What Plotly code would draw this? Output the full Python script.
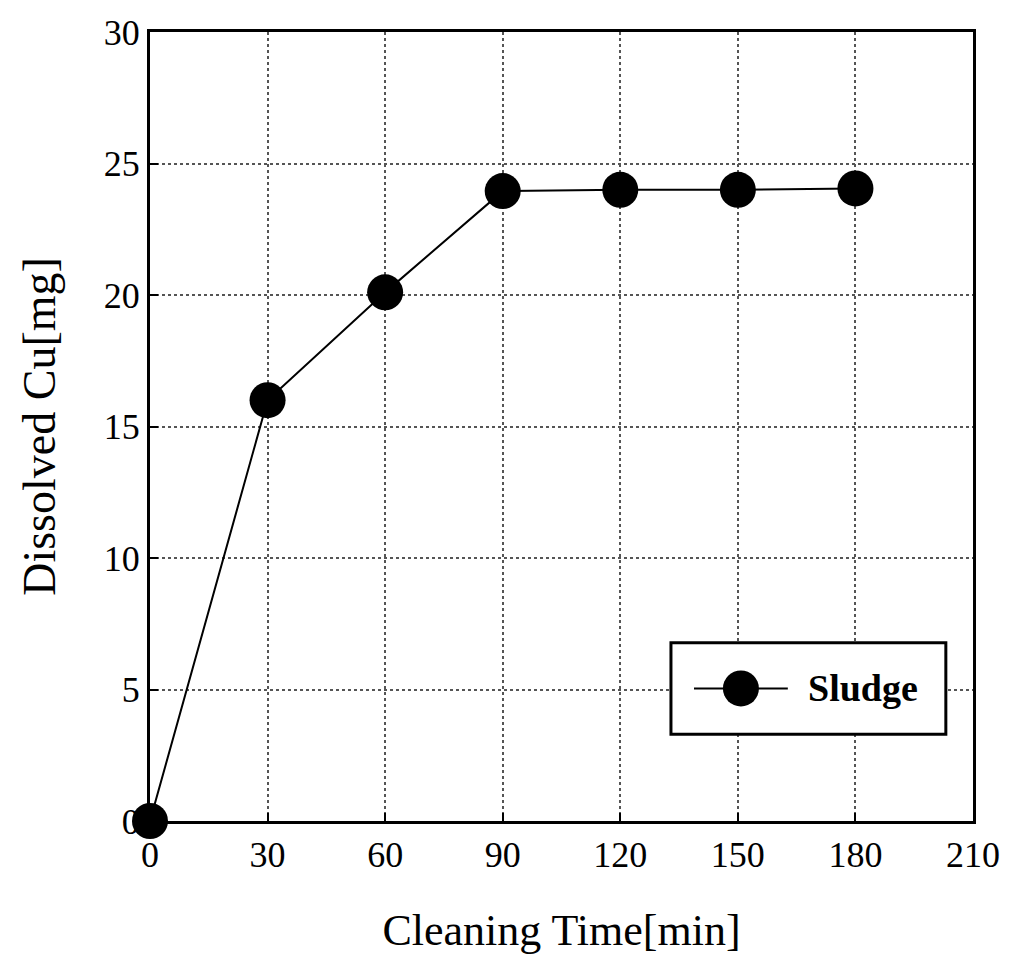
import plotly.graph_objects as go

time_min = [0, 30, 60, 90, 120, 150, 180]
dissolved_cu = [0, 16.0, 20.1, 23.95, 24.0, 24.0, 24.05]
x_ticks = [0, 30, 60, 90, 120, 150, 180, 210]
y_ticks = [0, 5, 10, 15, 20, 25, 30]
series_name = "Sludge"

font_family = "Liberation Serif, Times New Roman, serif"

fig = go.Figure()
fig.add_trace(go.Scatter(
    x=time_min, y=dissolved_cu, mode="lines+markers", name=series_name,
    line=dict(color="black", width=2),
    marker=dict(color="black", size=36, line=dict(width=0)),
    cliponaxis=False, showlegend=False,
))

# manual legend box (styled like the original)
lx0, lx1, ly0, ly1 = 0.633, 0.967, 0.110, 0.226
ymid = (ly0 + ly1) / 2
fig.add_shape(type="rect", xref="paper", yref="paper", x0=lx0, x1=lx1, y0=ly0, y1=ly1,
              line=dict(color="black", width=3), fillcolor="white", layer="above")
fig.add_shape(type="line", xref="paper", yref="paper", x0=0.661, x1=0.775, y0=ymid, y1=ymid,
              line=dict(color="black", width=2), layer="above")
fig.add_shape(type="circle", xref="paper", yref="paper", xsizemode="pixel", ysizemode="pixel",
              xanchor=0.718, yanchor=ymid, x0=-18, x1=18, y0=-18, y1=18,
              fillcolor="black", line=dict(color="black", width=0), layer="above")
fig.add_annotation(xref="paper", yref="paper", x=0.797, y=ymid, xanchor="left", yanchor="middle",
                   text="<b>" + series_name + "</b>", showarrow=False,
                   font=dict(size=38, family=font_family, color="black"))

fig.update_layout(
    width=1012, height=959,
    margin=dict(l=142, r=47, t=24, b=146),
    paper_bgcolor="white", plot_bgcolor="white",
    font=dict(family=font_family, color="black", size=36),
    showlegend=False,
    xaxis=dict(
        range=[0, 210], tickvals=x_ticks, ticktext=[str(v) for v in x_ticks],
        showgrid=True, gridcolor="#555", griddash="dot", gridwidth=1.5,
        showline=True, linecolor="black", linewidth=3, mirror=True,
        ticks="inside", ticklen=8, tickwidth=2, tickcolor="black",
        zeroline=False, tickfont=dict(size=36), ticklabeloverflow="allow",
        automargin=False,
        title=dict(text="Cleaning Time[min]", font=dict(size=44), standoff=40),
    ),
    yaxis=dict(
        range=[0, 30], tickvals=y_ticks, ticktext=[str(v) for v in y_ticks],
        showgrid=True, gridcolor="#555", griddash="dot", gridwidth=1.5,
        showline=True, linecolor="black", linewidth=3, mirror=True,
        ticks="inside", ticklen=8, tickwidth=2, tickcolor="black",
        zeroline=False, tickfont=dict(size=36), ticklabeloverflow="allow",
        automargin=False,
        title=dict(text="Dissolved Cu[mg]", font=dict(size=46), standoff=34),
    ),
)

fig.write_html("out.html")
